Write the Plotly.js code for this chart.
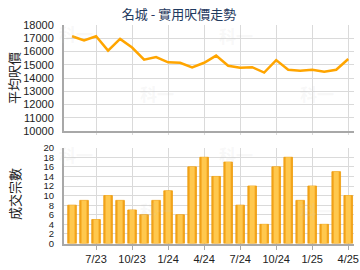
<!DOCTYPE html>
<html>
<head>
<meta charset="utf-8">
<script src="https://cdn.plot.ly/plotly-3.0.1.min.js"></script>
<style>html,body{margin:0;padding:0;background:#fff;}#chart{width:360px;height:270px;}</style>
</head>
<body>
<div id="chart"></div>
<script>
var months = ["5/23","6/23","7/23","8/23","9/23","10/23","11/23","12/23","1/24","2/24","3/24","4/24","5/24","6/24","7/24","8/24","9/24","10/24","11/24","12/24","1/25","2/25","3/25","4/25"];
var avgPrice = [17150,16830,17150,16070,16950,16300,15380,15580,15180,15150,14800,15150,15690,14920,14770,14820,14410,15350,14620,14540,14620,14470,14620,15430];
var deals = [8,9,5,10,9,7,6,9,11,6,16,18,14,17,8,12,4,16,18,9,12,4,15,10];
var tickLabels = ["7/23","10/23","1/24","4/24","7/24","10/24","1/25","4/25"];
var titleText = "名城 - 實用呎價走勢";
var yTitleTop = "平均呎價";
var yTitleBottom = "成交宗數";

var W = 360, H = 270;
var xRange = [-0.67, 23.48];
var gridC = "#DADADA";
var axisC = "#A8A8A8";
var fontLat = "Liberation Sans, Arial, sans-serif";
var fontCJK = "Noto Sans CJK TC, Noto Sans CJK SC, sans-serif";

var traces = [
  {x: months, y: avgPrice, type: "scatter", mode: "lines", xaxis: "x", yaxis: "y",
   line: {color: "#FFA500", width: 2.5}, hoverinfo: "skip"},
  {x: months, y: deals, type: "bar", xaxis: "x2", yaxis: "y2", width: 0.72,
   marker: {color: "#F3A41C", line: {color: "#EE9C0A", width: 0.8}}, hoverinfo: "skip"},
  {x: months, y: deals, type: "bar", xaxis: "x2", yaxis: "y2", width: 0.42,
   marker: {color: "#FFC84E", line: {width: 0}}, hoverinfo: "skip"}
];

function px2x(p){ return p / W; }
function px2y(p){ return 1 - p / H; }

var wm = [];
[[76,34],[236,35],[157,94],[317,94],[76,154],[236,154],[157,210],[317,210]].forEach(function(p){
  wm.push({text: "<b>科一</b>", xref: "paper", yref: "paper", x: px2x(p[0]), y: px2y(p[1]),
    xanchor: "center", yanchor: "middle", showarrow: false,
    font: {family: fontCJK, size: 17, color: "rgba(200,200,200,0.14)"}});
});

var layout = {
  width: W, height: H,
  margin: {l: 0, r: 0, t: 0, b: 0},
  paper_bgcolor: "#fff", plot_bgcolor: "#fff",
  showlegend: false,
  barmode: "overlay",
  title: {text: titleText, x: 179 / W, xanchor: "center", y: px2y(14), yanchor: "middle",
          font: {family: fontCJK, size: 13, color: "#1F3A60"}},
  xaxis: {type: "category", domain: [px2x(64), px2x(354)], range: xRange, anchor: "y",
          tickvals: tickLabels, showticklabels: false, showgrid: true, gridcolor: gridC, gridwidth: 1,
          showline: true, linecolor: axisC, linewidth: 2, ticks: "outside", ticklen: 2, tickcolor: gridC,
          zeroline: false, fixedrange: true},
  yaxis: {domain: [px2y(131), px2y(25)], range: [10000, 18000], anchor: "x", dtick: 1000,
          tickformat: "d",
          showgrid: true, gridcolor: gridC, gridwidth: 1, showline: true, linecolor: axisC, linewidth: 2,
          ticks: "outside", ticklen: 6, tickcolor: "rgba(0,0,0,0)",
          tickfont: {family: fontLat, size: 11, color: "#222"}, zeroline: false, fixedrange: true},
  xaxis2: {type: "category", domain: [px2x(64), px2x(354)], range: xRange, anchor: "y2",
          tickvals: tickLabels, ticktext: tickLabels, showgrid: true, gridcolor: gridC, gridwidth: 1,
          showline: true, linecolor: axisC, linewidth: 2, ticks: "outside", ticklen: 4, tickcolor: axisC,
          tickfont: {family: fontLat, size: 11, color: "#222"}, zeroline: false, fixedrange: true},
  yaxis2: {domain: [px2y(243.5), px2y(147.7)], range: [0, 20], anchor: "x2", dtick: 2,
          showgrid: true, gridcolor: gridC, gridwidth: 1, showline: true, linecolor: axisC, linewidth: 2,
          ticks: "outside", ticklen: 6, tickcolor: "rgba(0,0,0,0)",
          tickfont: {family: "Liberation Sans Narrow, " + fontLat, size: 9.5, color: "#222"},
          zeroline: false, fixedrange: true},
  annotations: wm.concat([
    {text: yTitleTop, xref: "paper", yref: "paper", x: px2x(14), y: px2y(78), textangle: -90,
     xanchor: "center", yanchor: "middle", showarrow: false,
     font: {family: fontCJK, size: 13, color: "#222"}},
    {text: yTitleBottom, xref: "paper", yref: "paper", x: px2x(14), y: px2y(194), textangle: -90,
     xanchor: "center", yanchor: "middle", showarrow: false,
     font: {family: fontCJK, size: 13, color: "#222"}}
  ])
};

Plotly.newPlot("chart", traces, layout, {staticPlot: true, displayModeBar: false});
</script>
</body>
</html>
